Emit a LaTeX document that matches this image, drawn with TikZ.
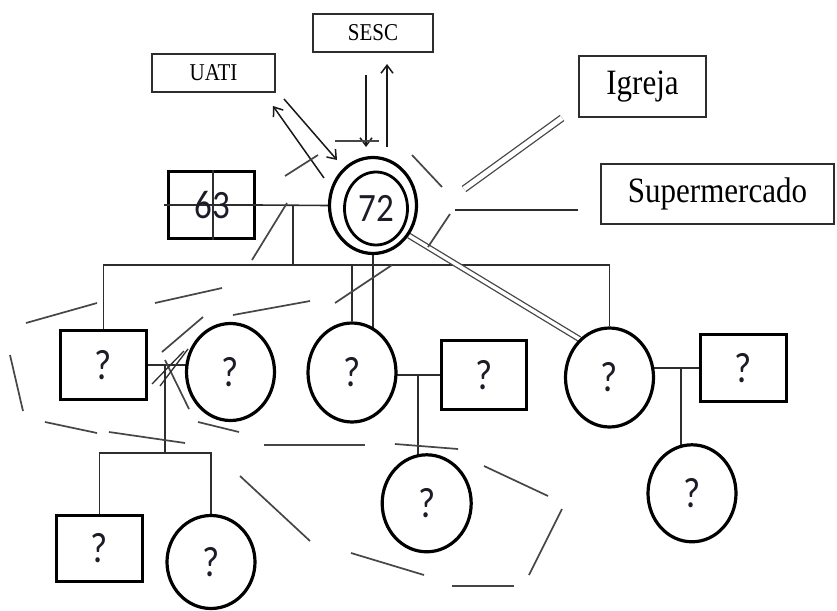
\documentclass[tikz,border=0pt]{standalone}
\usepackage{fontspec}
\setmainfont{Liberation Serif}
\newfontfamily\sansnum{Carlito}
\usetikzlibrary{arrows.meta,shapes.geometric}
\pgfdeclarelayer{bg}
\pgfdeclarelayer{paper}
\pgfsetlayers{paper,bg,main}
% slightly tall lettering
\newcommand{\vstretch}[1]{\scalebox{1}[1.15]{#1}}
\definecolor{inkdark}{RGB}{28,28,40}
\definecolor{linegray}{RGB}{45,45,45}
\definecolor{dashgray}{RGB}{70,70,70}

\begin{document}
\begin{tikzpicture}[x=1pt,y=-1pt,
  person/.style={draw=black, line width=3.2pt, fill=white, inner sep=0pt, text=inkdark},
  male/.style={person, rectangle},
  female/.style={person, ellipse},
  qm/.style={font=\sansnum\fontsize{37}{37}\selectfont},
  num/.style={font=\sansnum\fontsize{35}{35}\selectfont},
  place/.style={draw=linegray, line width=1.8pt, fill=white, rectangle, inner sep=0pt, text=black},
  smalllabel/.style={place, font=\fontsize{21}{21}\selectfont},
  biglabel/.style={place, font=\fontsize{31}{31}\selectfont},
  kin/.style={draw=linegray, line width=1.6pt},
  tie/.style={draw=linegray, line width=1.5pt},
  strongtie/.style={draw=dashgray, line width=1.3pt, double=white, double distance=3.5pt},
  flow/.style={draw=black!90, line width=1.5pt, -{Straight Barb[length=8pt,width=12pt,line width=1.5pt]}},
  bound/.style={draw=dashgray, line width=1.7pt},
]
\useasboundingbox (0,0) rectangle (837,610);
\begin{pgfonlayer}{paper}
  \fill[white] (0,0) rectangle (837,610);
\end{pgfonlayer}

% --- places in the social network ---
\node[smalllabel, minimum width=120pt, minimum height=38pt] (sesc) at (373,33) {\vstretch{SESC}};
\node[smalllabel, minimum width=123pt, minimum height=38pt] (uati) at (213.5,73) {\vstretch{UATI}};
\node[biglabel, minimum width=127pt, minimum height=61pt] (igreja) at (642.5,86.5) {\vstretch{Igreja}};
\node[biglabel, minimum width=233pt, minimum height=60pt] (superm) at (717.5,194) {\vstretch{Supermercado}};

% --- first generation ---
\node[male, num, minimum width=86pt, minimum height=67pt] (p63) at (211.5,205) {};
\node[female, minimum width=87pt, minimum height=96pt] (p72) at (373,205.5) {};
\node[female, num, minimum width=63pt, minimum height=73pt, line width=2.8pt] (p72in) at (376,208.5) {\vstretch{72}};

% --- children ---
\node[male, qm, minimum width=86pt, minimum height=69pt] (c1) at (103.5,365) {\vstretch{?}};
\node[female, qm, minimum width=88pt, minimum height=97pt] (c1w) at (230.5,372) {\vstretch{?}};
\node[female, qm, minimum width=88pt, minimum height=99pt] (c2) at (352,372.5) {\vstretch{?}};
\node[male, qm, minimum width=85pt, minimum height=69pt] (c2h) at (484,375) {\vstretch{?}};
\node[female, qm, minimum width=88pt, minimum height=99pt] (c3) at (609.5,377.5) {\vstretch{?}};
\node[male, qm, minimum width=86pt, minimum height=67pt] (c3h) at (743.5,368) {\vstretch{?}};

% --- grandchildren ---
\node[male, qm, minimum width=86pt, minimum height=66pt] (g1) at (99.5,548.5) {\vstretch{?}};
\node[female, qm, minimum width=88pt, minimum height=93pt] (g2) at (211,562) {\vstretch{?}};
\node[female, qm, minimum width=89pt, minimum height=97pt] (g3) at (426.7,503.3) {\vstretch{?}};
\node[female, qm, minimum width=88pt, minimum height=97pt] (g4) at (692,493.3) {\vstretch{?}};

% cross inside the 63 box, drawn over the fill
\draw[kin, line width=1.2pt] (213,170) -- (213,240);
\draw[kin, line width=1.2pt] ([xshift=-3pt]p63.west) -- (p63.east);
\node[num, text=inkdark] (t63) at (212,205) {\vstretch{63}};

% helper points
\coordinate (m72) at (293,205);
\coordinate (sib) at (0,265);
\coordinate (m1) at (165,365);
\coordinate (gsib) at (0,453);
\coordinate (m2) at (418,375);
\coordinate (m3) at (681,368);

\coordinate (ua1) at (324,178);
\coordinate (ua2) at (273,106);
\coordinate (ua3) at (284,99);
\coordinate (ua4) at (337,160);
\coordinate (se1) at (366,75);
\coordinate (se2) at (366,147);
\coordinate (se3) at (387,147);
\coordinate (se4) at (387,64);
\coordinate (ig1) at (464,189);
\coordinate (ig2) at (562,118);
\coordinate (su1) at (455,210);
\coordinate (su2) at (578,210);

\begin{pgfonlayer}{bg}
  % couple and descent lines
  \draw[kin] (p63.east) -- (p72.west);
  \draw[kin] (m72) -- (m72 |- sib);
  \draw[kin] (c1.north) -- (c1.north |- sib) -- (c3.north |- sib) -- (c3.north);
  \draw[kin] (c2.north) -- (c2.north |- sib);
  \draw[kin] (p72.south) -- (p72.south |- c2.center);

  \draw[kin] (c1.east) -- (c1.east -| c1w.center);
  \draw[kin] (m1) -- (m1 |- gsib);
  \draw[kin] (g1.north) -- (g1.north |- gsib) -- (g2.north |- gsib) -- (g2.north);

  \draw[kin] (c2h.west) -- (c2h.west -| c2.center);
  \draw[kin] (m2) -- (m2 |- g3.center);

  \draw[kin] (c3h.west) -- (c3h.west -| c3.center);
  \draw[kin] (m3) -- (m3 |- g4.center);

  % close bond between the 72 and her daughter
  \draw[strongtie] (p72.-40) -- (c3.128);

  % links to the community
  \draw[flow] (ua1) -- (ua2);
  \draw[flow] (ua3) -- (ua4);
  \draw[flow] (se1) -- (se2);
  \draw[flow] (se3) -- (se4);
  \draw[strongtie, double distance=5pt] (ig1) -- (ig2);
  \draw[tie] (su1) -- (su2);

  % broken boundary around the 72 household
  \foreach \a/\b in {
      {(285,176)}/{(318,155)}, {(335,141)}/{(379,141)},
      {(412,155)}/{(442,187)}, {(450,214)}/{(428,247)},
      {(335,303)}/{(392,265)}, {(252,260)}/{(287,203)}}
    \draw[bound] \a -- \b;

  % broken boundary around the children's families
  \foreach \a/\b in {
      {(26,323)}/{(97,303)}, {(155,303)}/{(222,288)},
      {(233,315)}/{(310,301)}, {(10,355)}/{(23,411)},
      {(45,422)}/{(97,433)}, {(109,432)}/{(185,443)},
      {(198,422)}/{(239,432)}, {(264,445)}/{(365,445)},
      {(395,444)}/{(458,449)}, {(484,466)}/{(548,496)},
      {(562,509)}/{(529,575)}, {(452,586)}/{(514,586)},
      {(351,553)}/{(424,575)}, {(240,476)}/{(310,541)},
      {(162,352)}/{(203,317)}, {(165,360)}/{(189,409)}}
    \draw[bound] \a -- \b;

  % separation marks on the left couple
  \draw[kin, line width=1.3pt] (152,384) -- (184,351);
  \draw[kin, line width=1.3pt] (160,386) -- (188,349);
\end{pgfonlayer}
\end{tikzpicture}
\end{document}
